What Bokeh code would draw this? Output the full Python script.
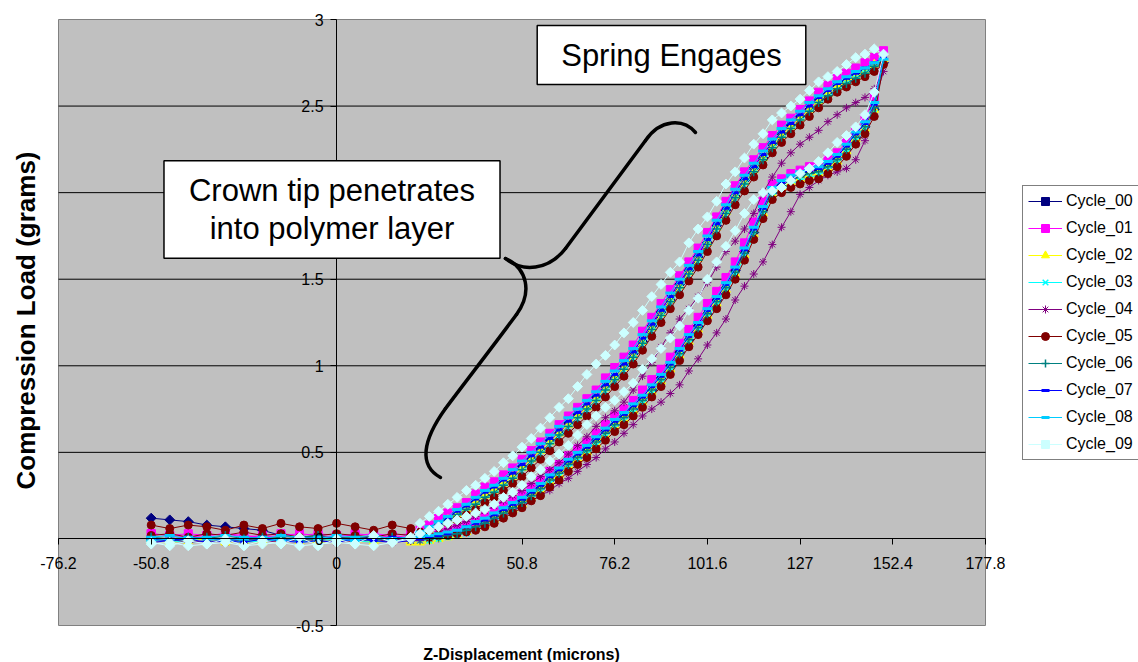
from math import pi
from bokeh.plotting import figure
from bokeh.models import Range1d, LinearAxis, FixedTicker, Label, Legend, LegendItem
from bokeh.embed import file_html
from bokeh.resources import INLINE

# ---------------- data ----------------
x_ticks = [-76.2, -50.8, -25.4, 0.0, 25.4, 50.8, 76.2, 101.6, 127.0, 152.4, 177.8]
x_tick_labels = ["-76.2", "-50.8", "-25.4", "0", "25.4", "50.8", "76.2", "101.6", "127", "152.4", "177.8"]
y_ticks = [-0.5, 0.0, 0.5, 1.0, 1.5, 2.0, 2.5, 3.0]
y_tick_labels = ["-0.5", "0", "0.5", "1", "1.5", "2", "2.5", "3"]
grid_levels = [0.5, 1.0, 1.5, 2.0, 2.5]

series_names = ["Cycle_00", "Cycle_01", "Cycle_02", "Cycle_03", "Cycle_04",
                "Cycle_05", "Cycle_06", "Cycle_07", "Cycle_08", "Cycle_09"]

# Z displacement (microns): approach, compression to peak, and return
z_disp = [
    -50.8, -45.72, -40.64, -35.56, -30.48, -25.4, -20.32, -15.24, -10.16, -5.08, 0.0, 5.08, 10.16, 15.24, 20.32,
    22.86, 25.4, 27.94, 30.48, 33.02, 35.56, 38.1, 40.64, 43.18, 45.72,
    48.26, 50.8, 53.34, 55.88, 58.42, 60.96, 63.5, 66.04, 68.58, 71.12,
    73.66, 76.2, 78.74, 81.28, 83.82, 86.36, 88.9, 91.44, 93.98, 96.52,
    99.06, 101.6, 104.14, 106.68, 109.22, 111.76, 114.3, 116.84, 119.38, 121.92,
    124.46, 127.0, 129.54, 132.08, 134.62, 137.16, 139.7, 142.24, 144.78, 147.32, 149.86,
    147.32, 144.78, 142.24, 139.7, 137.16, 134.62, 132.08, 129.54, 127.0, 124.46,
    121.92, 119.38, 116.84, 114.3, 111.76, 109.22, 106.68, 104.14, 101.6, 99.06,
    96.52, 93.98, 91.44, 88.9, 86.36, 83.82, 81.28, 78.74, 76.2, 73.66,
    71.12, 68.58, 66.04, 63.5, 60.96, 58.42, 55.88, 53.34, 50.8, 48.26,
    45.72, 43.18, 40.64, 38.1, 35.56, 33.02, 30.48, 27.94, 25.4, 22.86,
    20.32, 15.24, 10.16, 5.08, 0.0, -5.08, -10.16, -15.24, -20.32, -25.4, -30.48, -35.56, -40.64, -45.72, -50.8,
]

load_00 = [
    0.12, 0.11, 0.10, 0.08, 0.07, 0.06, 0.05, 0.02, 0.01, 0.00, 0.01, 0.00, 0.01, 0.00, 0.01,
    0.03, 0.06, 0.08, 0.12, 0.15, 0.19, 0.22, 0.25, 0.29, 0.33,
    0.38, 0.42, 0.46, 0.52, 0.57, 0.61, 0.67, 0.72, 0.76, 0.82,
    0.88, 0.93, 1.00, 1.07, 1.14, 1.23, 1.31, 1.38, 1.47, 1.55,
    1.63, 1.71, 1.81, 1.90, 1.98, 2.07, 2.14, 2.20, 2.28, 2.34,
    2.39, 2.44, 2.48, 2.54, 2.57, 2.62, 2.64, 2.68, 2.70, 2.73, 2.75,
    2.48, 2.38, 2.32, 2.25, 2.20, 2.15, 2.13, 2.11, 2.10, 2.07,
    2.04, 2.00, 1.90, 1.77, 1.66, 1.55, 1.45, 1.38, 1.30, 1.23,
    1.15, 1.08, 1.00, 0.93, 0.86, 0.81, 0.75, 0.71, 0.66, 0.62,
    0.57, 0.52, 0.47, 0.44, 0.39, 0.34, 0.30, 0.26, 0.22, 0.18,
    0.16, 0.13, 0.10, 0.08, 0.05, 0.04, 0.03, 0.01, 0.01, 0.00,
    0.00, -0.01, 0.01, 0.00, -0.01, 0.00, 0.01, -0.01, 0.00, 0.01, -0.01, 0.00, 0.01, -0.01, 0.00,
]
load_01 = [
    0.03, 0.02, 0.03, 0.02, 0.03, 0.01, 0.02, 0.03, 0.02, 0.03, 0.02, 0.02, 0.03, 0.02, 0.03,
    0.05, 0.08, 0.12, 0.15, 0.18, 0.21, 0.26, 0.30, 0.33, 0.37,
    0.41, 0.46, 0.51, 0.56, 0.61, 0.66, 0.71, 0.76, 0.81, 0.86,
    0.93, 0.99, 1.05, 1.12, 1.20, 1.28, 1.36, 1.44, 1.52, 1.60,
    1.68, 1.77, 1.86, 1.95, 2.04, 2.12, 2.19, 2.26, 2.33, 2.39,
    2.43, 2.48, 2.53, 2.58, 2.62, 2.66, 2.69, 2.72, 2.75, 2.78, 2.82,
    2.55, 2.43, 2.36, 2.29, 2.23, 2.19, 2.16, 2.15, 2.13, 2.11,
    2.08, 2.05, 1.95, 1.83, 1.71, 1.60, 1.51, 1.43, 1.36, 1.28,
    1.21, 1.13, 1.05, 0.98, 0.92, 0.86, 0.80, 0.75, 0.71, 0.66,
    0.61, 0.56, 0.52, 0.48, 0.43, 0.39, 0.34, 0.30, 0.26, 0.22,
    0.19, 0.16, 0.13, 0.10, 0.08, 0.06, 0.05, 0.04, 0.03, 0.02,
    0.02, 0.01, 0.02, 0.03, 0.01, 0.02, 0.03, 0.02, 0.01, 0.02, 0.03, 0.02, 0.01, 0.02, 0.03,
]
load_02 = [
    0.00, -0.01, 0.00, -0.02, -0.01, 0.00, -0.01, -0.02, 0.00, -0.01, 0.00, -0.02, -0.01, 0.00, -0.01,
    0.02, 0.05, 0.08, 0.11, 0.14, 0.17, 0.21, 0.25, 0.28, 0.32,
    0.36, 0.41, 0.46, 0.51, 0.56, 0.61, 0.66, 0.71, 0.76, 0.81,
    0.87, 0.93, 0.99, 1.06, 1.14, 1.22, 1.30, 1.38, 1.46, 1.54,
    1.62, 1.71, 1.80, 1.89, 1.98, 2.06, 2.13, 2.20, 2.27, 2.33,
    2.38, 2.43, 2.48, 2.53, 2.57, 2.61, 2.64, 2.67, 2.70, 2.74, 2.77,
    2.48, 2.37, 2.31, 2.24, 2.18, 2.14, 2.11, 2.10, 2.08, 2.06,
    2.03, 1.99, 1.88, 1.76, 1.64, 1.53, 1.44, 1.36, 1.29, 1.21,
    1.14, 1.06, 0.98, 0.91, 0.85, 0.79, 0.74, 0.69, 0.65, 0.60,
    0.55, 0.50, 0.46, 0.42, 0.37, 0.33, 0.28, 0.24, 0.20, 0.17,
    0.14, 0.11, 0.08, 0.06, 0.04, 0.02, 0.01, 0.00, -0.01, -0.02,
    -0.02, -0.01, -0.02, 0.00, -0.01, -0.02, -0.01, 0.00, -0.02, -0.01, -0.02, 0.00, -0.01, -0.02, -0.01,
]
load_03 = [
    -0.01, 0.00, -0.01, 0.01, -0.01, 0.00, -0.02, 0.00, -0.01, 0.01, 0.00, -0.01, 0.00, -0.01, 0.00,
    0.02, 0.04, 0.07, 0.10, 0.13, 0.16, 0.19, 0.23, 0.26, 0.30,
    0.34, 0.39, 0.44, 0.49, 0.54, 0.59, 0.64, 0.69, 0.74, 0.79,
    0.85, 0.91, 0.97, 1.04, 1.12, 1.20, 1.28, 1.36, 1.44, 1.52,
    1.60, 1.69, 1.78, 1.87, 1.96, 2.04, 2.11, 2.18, 2.25, 2.31,
    2.36, 2.41, 2.46, 2.51, 2.55, 2.59, 2.63, 2.66, 2.69, 2.72, 2.76,
    2.46, 2.36, 2.30, 2.23, 2.17, 2.13, 2.10, 2.09, 2.07, 2.05,
    2.02, 1.98, 1.87, 1.75, 1.63, 1.52, 1.43, 1.35, 1.28, 1.20,
    1.13, 1.05, 0.97, 0.90, 0.84, 0.78, 0.73, 0.68, 0.64, 0.59,
    0.54, 0.49, 0.45, 0.41, 0.36, 0.32, 0.27, 0.23, 0.19, 0.16,
    0.13, 0.10, 0.08, 0.05, 0.03, 0.02, 0.01, 0.00, -0.01, -0.01,
    -0.01, 0.00, -0.02, -0.01, 0.00, -0.01, -0.02, 0.00, -0.01, -0.02, 0.00, -0.01, -0.02, -0.01, 0.00,
]
load_04 = [
    0.00, -0.01, 0.01, 0.00, -0.01, 0.00, 0.01, 0.00, -0.01, 0.01, 0.00, -0.01, 0.00, 0.00, -0.01,
    0.01, 0.02, 0.04, 0.06, 0.08, 0.10, 0.13, 0.16, 0.19, 0.22,
    0.25, 0.28, 0.32, 0.36, 0.40, 0.44, 0.49, 0.54, 0.59, 0.65,
    0.70, 0.74, 0.79, 0.86, 0.94, 1.02, 1.11, 1.19, 1.27, 1.33,
    1.40, 1.48, 1.57, 1.66, 1.72, 1.79, 1.88, 2.00, 2.09, 2.17,
    2.23, 2.28, 2.32, 2.36, 2.41, 2.45, 2.49, 2.52, 2.55, 2.60, 2.70,
    2.52, 2.30, 2.19, 2.14, 2.12, 2.10, 2.07, 2.03, 1.99, 1.89,
    1.80, 1.70, 1.60, 1.53, 1.46, 1.38, 1.27, 1.19, 1.12, 1.04,
    0.97, 0.89, 0.84, 0.79, 0.75, 0.71, 0.66, 0.61, 0.56, 0.52,
    0.47, 0.43, 0.39, 0.35, 0.32, 0.28, 0.25, 0.22, 0.19, 0.16,
    0.13, 0.11, 0.09, 0.07, 0.05, 0.03, 0.02, 0.01, 0.00, -0.01,
    -0.01, -0.02, 0.00, -0.01, -0.02, -0.01, 0.00, -0.02, -0.01, 0.00, -0.02, -0.01, -0.02, 0.00, -0.01,
]
load_05 = [
    0.08, 0.06, 0.08, 0.07, 0.05, 0.08, 0.06, 0.09, 0.07, 0.06, 0.09, 0.07, 0.05, 0.08, 0.06,
    0.04, 0.05, 0.07, 0.09, 0.11, 0.14, 0.17, 0.21, 0.24, 0.28,
    0.32, 0.36, 0.41, 0.46, 0.51, 0.56, 0.61, 0.66, 0.71, 0.76,
    0.82, 0.88, 0.94, 1.01, 1.09, 1.17, 1.25, 1.33, 1.41, 1.49,
    1.57, 1.66, 1.75, 1.84, 1.93, 2.01, 2.09, 2.16, 2.23, 2.29,
    2.34, 2.39, 2.44, 2.49, 2.54, 2.58, 2.61, 2.64, 2.67, 2.70, 2.74,
    2.44, 2.34, 2.28, 2.21, 2.15, 2.11, 2.08, 2.07, 2.05, 2.03,
    2.00, 1.96, 1.85, 1.73, 1.61, 1.50, 1.41, 1.33, 1.26, 1.18,
    1.11, 1.03, 0.95, 0.88, 0.82, 0.76, 0.71, 0.66, 0.62, 0.57,
    0.52, 0.47, 0.43, 0.39, 0.34, 0.30, 0.25, 0.22, 0.18, 0.15,
    0.12, 0.09, 0.07, 0.05, 0.04, 0.03, 0.02, 0.02, 0.01, 0.02,
    0.02, 0.03, 0.01, 0.02, 0.03, 0.02, 0.01, 0.03, 0.02, 0.04, 0.02, 0.03, 0.01, 0.03, 0.02,
]
load_06 = [
    0.01, 0.00, 0.01, 0.00, 0.02, 0.00, 0.01, 0.00, 0.01, 0.02, 0.00, 0.01, 0.00, 0.01, 0.00,
    0.02, 0.05, 0.08, 0.11, 0.14, 0.17, 0.20, 0.24, 0.27, 0.31,
    0.35, 0.40, 0.45, 0.50, 0.55, 0.60, 0.65, 0.70, 0.75, 0.80,
    0.86, 0.92, 0.98, 1.05, 1.13, 1.21, 1.29, 1.37, 1.45, 1.53,
    1.61, 1.70, 1.79, 1.88, 1.97, 2.05, 2.12, 2.19, 2.26, 2.32,
    2.37, 2.42, 2.47, 2.52, 2.56, 2.60, 2.63, 2.66, 2.69, 2.73, 2.77,
    2.49, 2.38, 2.32, 2.25, 2.19, 2.15, 2.12, 2.11, 2.09, 2.07,
    2.04, 2.00, 1.89, 1.77, 1.65, 1.54, 1.45, 1.37, 1.30, 1.22,
    1.15, 1.07, 0.99, 0.92, 0.86, 0.80, 0.75, 0.70, 0.66, 0.61,
    0.56, 0.51, 0.47, 0.43, 0.38, 0.34, 0.29, 0.25, 0.21, 0.18,
    0.15, 0.12, 0.09, 0.07, 0.05, 0.03, 0.02, 0.01, 0.00, 0.00,
    0.00, 0.01, -0.01, 0.00, 0.01, 0.00, -0.01, 0.01, 0.00, -0.01, 0.00, 0.01, 0.00, -0.01, 0.01,
]
load_07 = [
    0.00, -0.01, 0.01, 0.00, -0.01, 0.00, 0.01, -0.01, 0.00, 0.01, 0.00, -0.01, 0.00, 0.01, 0.00,
    0.03, 0.06, 0.09, 0.12, 0.16, 0.19, 0.23, 0.27, 0.30, 0.34,
    0.38, 0.43, 0.48, 0.53, 0.58, 0.63, 0.68, 0.73, 0.78, 0.83,
    0.89, 0.95, 1.01, 1.08, 1.16, 1.24, 1.32, 1.40, 1.48, 1.56,
    1.64, 1.73, 1.82, 1.91, 2.00, 2.08, 2.15, 2.22, 2.29, 2.35,
    2.40, 2.45, 2.50, 2.55, 2.59, 2.63, 2.66, 2.69, 2.72, 2.75, 2.78,
    2.51, 2.40, 2.34, 2.27, 2.21, 2.17, 2.14, 2.13, 2.11, 2.09,
    2.06, 2.02, 1.91, 1.79, 1.67, 1.56, 1.47, 1.39, 1.32, 1.24,
    1.17, 1.09, 1.01, 0.94, 0.88, 0.82, 0.77, 0.72, 0.68, 0.63,
    0.58, 0.53, 0.49, 0.45, 0.40, 0.36, 0.31, 0.27, 0.23, 0.20,
    0.17, 0.14, 0.11, 0.09, 0.07, 0.05, 0.03, 0.02, 0.01, 0.00,
    -0.01, -0.02, -0.01, 0.00, -0.02, -0.01, -0.02, -0.01, 0.00, -0.02, -0.01, -0.02, 0.00, -0.01, -0.02,
]
load_08 = [
    0.01, 0.02, 0.00, 0.01, 0.02, 0.01, 0.00, 0.02, 0.01, 0.00, 0.02, 0.01, 0.02, 0.00, 0.01,
    0.04, 0.07, 0.10, 0.13, 0.17, 0.20, 0.24, 0.28, 0.31, 0.35,
    0.40, 0.45, 0.50, 0.55, 0.60, 0.65, 0.70, 0.75, 0.80, 0.85,
    0.91, 0.97, 1.03, 1.10, 1.18, 1.26, 1.34, 1.42, 1.50, 1.58,
    1.66, 1.75, 1.84, 1.93, 2.02, 2.10, 2.17, 2.24, 2.31, 2.37,
    2.42, 2.47, 2.52, 2.56, 2.60, 2.64, 2.67, 2.70, 2.72, 2.75, 2.77,
    2.52, 2.41, 2.35, 2.28, 2.22, 2.18, 2.15, 2.14, 2.12, 2.10,
    2.07, 2.03, 1.92, 1.80, 1.68, 1.57, 1.48, 1.40, 1.33, 1.25,
    1.18, 1.10, 1.02, 0.95, 0.89, 0.83, 0.78, 0.73, 0.69, 0.64,
    0.59, 0.54, 0.50, 0.46, 0.41, 0.37, 0.32, 0.28, 0.24, 0.21,
    0.18, 0.15, 0.12, 0.10, 0.07, 0.05, 0.04, 0.03, 0.02, 0.01,
    0.01, 0.00, 0.01, -0.01, 0.00, 0.01, 0.00, -0.01, 0.01, 0.00, -0.01, 0.00, 0.01, 0.00, -0.01,
]
load_09 = [
    -0.03, -0.02, -0.04, -0.03, -0.02, -0.04, -0.03, -0.02, -0.04, -0.03, -0.02, -0.03, -0.04, -0.02, 0.00,
    0.09, 0.13, 0.16, 0.20, 0.24, 0.28, 0.31, 0.35, 0.39, 0.44,
    0.48, 0.53, 0.58, 0.64, 0.70, 0.76, 0.81, 0.88, 0.95, 1.01,
    1.06, 1.12, 1.19, 1.25, 1.32, 1.40, 1.47, 1.54, 1.60, 1.71,
    1.79, 1.86, 1.95, 2.05, 2.12, 2.20, 2.28, 2.34, 2.42, 2.46,
    2.50, 2.54, 2.59, 2.64, 2.67, 2.70, 2.74, 2.78, 2.80, 2.83, 2.80,
    2.58, 2.45, 2.38, 2.33, 2.29, 2.23, 2.18, 2.14, 2.11, 2.07,
    2.03, 2.01, 2.00, 1.96, 1.88, 1.78, 1.69, 1.60, 1.50, 1.39,
    1.32, 1.23, 1.16, 1.10, 1.04, 0.98, 0.90, 0.85, 0.80, 0.76,
    0.71, 0.66, 0.60, 0.54, 0.49, 0.45, 0.40, 0.36, 0.31, 0.27,
    0.24, 0.20, 0.17, 0.15, 0.13, 0.11, 0.09, 0.07, 0.05, 0.03,
    0.01, -0.02, 0.02, -0.03, 0.00, -0.04, 0.01, -0.03, -0.01, -0.04, 0.00, -0.03, -0.01, -0.04, -0.02,
]
loads = [load_00, load_01, load_02, load_03, load_04,
         load_05, load_06, load_07, load_08, load_09]
for nm, ld in zip(series_names, loads):
    assert len(ld) == len(z_disp), (nm, len(ld), len(z_disp))

# ---------------- styles ----------------
colors = ["#000080", "#FF00FF", "#FFFF00", "#00FFFF", "#800080",
          "#800000", "#008080", "#0000FF", "#00CCFF", "#CCFFFF"]
markers = ["square", "square", "triangle", "x", "asterisk",
           "circle", "cross", "dash", "dash", "square"]
marker_angles = [pi / 4, 0, 0, 0, 0, 0, 0, 0, 0, pi / 4]
marker_sizes = [7, 8, 9, 8, 8, 8, 9, 7, 10, 7]
marker_lw = [1, 1, 1, 1.5, 1, 1, 1.5, 3, 3, 1]

FONT = "Liberation Sans"

# axis extents of the plot area
X0, X1 = -76.2, 177.8
Y0, Y1 = -0.5, 3.0

# canvas layout (pixels): plot area occupies [PL, PR] x [PT, PB]
W, H = 1138, 662
PL, PR, PT, PB = 58.0, 985.0, 19.0, 625.0
sx = (X1 - X0) / (PR - PL)
sy = (Y1 - Y0) / (PB - PT)

p = figure(width=W, height=H, title=None,
           x_range=Range1d(X0 - PL * sx, X1 + (W - PR) * sx),
           y_range=Range1d(Y0 - (H - PB) * sy, Y1 + PT * sy),
           x_axis_type=None, y_axis_type=None,
           toolbar_location=None, output_backend="svg",
           min_border_left=0, min_border_right=0,
           min_border_top=0, min_border_bottom=0)
p.background_fill_color = "white"
p.border_fill_color = "white"
p.outline_line_color = None

# plot area and horizontal gridlines
p.quad(left=[X0], right=[X1], bottom=[Y0], top=[Y1],
       fill_color="#C0C0C0", line_color="#808080", line_width=1)
p.segment(x0=[X0] * len(grid_levels), x1=[X1] * len(grid_levels),
          y0=grid_levels, y1=grid_levels, line_color="black", line_width=1)

xaxis = LinearAxis(fixed_location=0, bounds=(X0, X1),
                   ticker=FixedTicker(ticks=x_ticks, minor_ticks=[]),
                   major_label_overrides={t: s for t, s in zip(x_ticks, x_tick_labels)},
                   axis_line_color="black", axis_line_width=1,
                   major_tick_line_color="black", major_tick_out=6, major_tick_in=0,
                   minor_tick_out=0, minor_tick_in=0,
                   major_label_standoff=12,
                   major_label_text_font=FONT, major_label_text_font_size="16px",
                   major_label_text_color="black")
yaxis = LinearAxis(fixed_location=0, bounds=(Y0, Y1),
                   ticker=FixedTicker(ticks=y_ticks, minor_ticks=[]),
                   major_label_overrides={t: s for t, s in zip(y_ticks, y_tick_labels)},
                   axis_line_color="black", axis_line_width=1,
                   major_tick_line_color="black", major_tick_out=6, major_tick_in=0,
                   minor_tick_out=0, minor_tick_in=0,
                   major_label_standoff=7,
                   major_label_text_font=FONT, major_label_text_font_size="16px",
                   major_label_text_color="black")
p.add_layout(xaxis, "below")
p.add_layout(yaxis, "left")

items = []
for nm, ld, c, m, a, s, w in zip(series_names, loads, colors, markers,
                                  marker_angles, marker_sizes, marker_lw):
    lr = p.line(z_disp, ld, line_color=c, line_width=1)
    sr = p.scatter(z_disp, ld, marker=m, angle=a, size=s,
                   fill_color=c, line_color=c, line_width=w)
    items.append(LegendItem(label=nm, renderers=[lr, sr]))

legend = Legend(items=items, location=(1022, 202), orientation="vertical",
                background_fill_color="white", background_fill_alpha=1.0,
                border_line_color="black", border_line_width=1,
                label_text_font=FONT, label_text_font_size="16px",
                label_text_color="black",
                glyph_width=34, glyph_height=20, label_height=20,
                label_standoff=4, spacing=7, padding=5, margin=0)
p.add_layout(legend)

# ---------------- annotations ----------------
def _dx(px):
    return X0 + (px - PL) * sx
def _dy(py):
    return Y1 - (py - PT) * sy

brace_segments = [
    (695, 132, 683, 118, 660, 118, 645, 140),
    (645, 140, 620, 174, 590, 214, 565, 248),
    (565, 248, 548, 270, 522, 272, 505, 258),
    (505, 258, 527, 268, 532, 292, 516, 314),
    (516, 314, 490, 349, 466, 380, 445, 408),
    (445, 408, 422, 440, 418, 465, 440, 477),
]
p.bezier(x0=[_dx(s[0]) for s in brace_segments], y0=[_dy(s[1]) for s in brace_segments],
         cx0=[_dx(s[2]) for s in brace_segments], cy0=[_dy(s[3]) for s in brace_segments],
         cx1=[_dx(s[4]) for s in brace_segments], cy1=[_dy(s[5]) for s in brace_segments],
         x1=[_dx(s[6]) for s in brace_segments], y1=[_dy(s[7]) for s in brace_segments],
         line_color="black", line_width=3.5, line_cap="round")

p.add_layout(Label(x=671, y=H - 54.5, x_units="screen", y_units="screen",
                   text="Spring Engages", text_font=FONT, text_font_size="31px",
                   text_color="black", text_align="center", text_baseline="middle",
                   background_fill_color="white", background_fill_alpha=1.0,
                   border_line_color="black", border_line_width=1.5,
                   padding=(24, 12)))
p.add_layout(Label(x=331.5, y=H - 209, x_units="screen", y_units="screen",
                   text="Crown tip penetrates\ninto polymer layer",
                   text_font=FONT, text_font_size="31px", text_line_height=1.1,
                   text_color="black", text_align="center", text_baseline="middle",
                   background_fill_color="white", background_fill_alpha=1.0,
                   border_line_color="black", border_line_width=1.5,
                   padding=(25, 12)))

p.add_layout(Label(x=25, y=H - 320, x_units="screen", y_units="screen", angle=pi / 2,
                   text="Compression Load (grams)", text_font=FONT,
                   text_font_size="26px", text_font_style="bold", text_color="black",
                   text_align="center", text_baseline="middle"))
p.add_layout(Label(x=521, y=H - 654, x_units="screen", y_units="screen",
                   text="Z-Displacement (microns)", text_font=FONT,
                   text_font_size="16px", text_font_style="bold", text_color="black",
                   text_align="center", text_baseline="middle"))

open("out.html", "w").write(file_html(p, INLINE))
